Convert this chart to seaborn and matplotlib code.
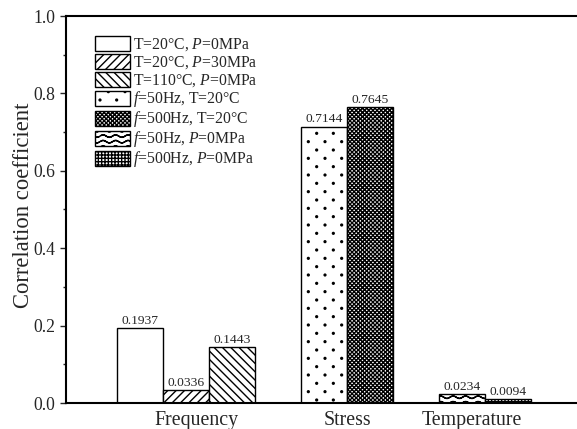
import warnings
warnings.filterwarnings('ignore')
import numpy as np
import pandas as pd
import matplotlib
matplotlib.use('Agg')
import matplotlib.pyplot as plt
import matplotlib.hatch as mhatch
from matplotlib.path import Path
from matplotlib.patches import Patch, Rectangle
from matplotlib.legend_handler import HandlerPatch
from matplotlib.ticker import MultipleLocator
import seaborn as sns

# ---------------- data ----------------
groups = ['Frequency', 'Stress', 'Temperature']
conditions = [
    'T=20°C, $\\mathit{P}$=0MPa',
    'T=20°C, $\\mathit{P}$=30MPa',
    'T=110°C, $\\mathit{P}$=0MPa',
    '$\\mathit{f}$=50Hz, T=20°C',
    '$\\mathit{f}$=500Hz, T=20°C',
    '$\\mathit{f}$=50Hz, $\\mathit{P}$=0MPa',
    '$\\mathit{f}$=500Hz, $\\mathit{P}$=0MPa',
]
condition_group = ['Frequency', 'Frequency', 'Frequency', 'Stress', 'Stress',
                   'Temperature', 'Temperature']
values = [0.1937, 0.0336, 0.1443, 0.7144, 0.7645, 0.0234, 0.0094]
y_ticks = [0.0, 0.2, 0.4, 0.6, 0.8, 1.0]

# ---------------- styles ----------------
hatches = ['', '////', '\\\\\\\\', ':', 'xxxxxxxx', '~~~', '+++++']
label_offsets = [0.22, 0.02, -0.28]   # x-label shift relative to group centre


class WaveHatch(mhatch.HatchPatternBase):
    """wavy lines, drawn as many short segments ('~')"""
    def __init__(self, hatch, density):
        self.num_lines = int(hatch.count('~') * density)
        self.npts = 81
        self.num_vertices = self.num_lines * (self.npts - 1) * 2

    def set_vertices_and_codes(self, vertices, codes):
        if self.num_lines == 0:
            return
        xs = np.linspace(0, 1, self.npts)
        ys = (np.arange(self.num_lines) + 0.5) / self.num_lines
        amp = 0.012
        k = 0
        for y in ys:
            yy = y + amp * np.sin(2 * np.pi * 8 * xs)
            n = self.npts - 1
            vertices[k:k + 2 * n:2, 0] = xs[:-1]
            vertices[k:k + 2 * n:2, 1] = yy[:-1]
            vertices[k + 1:k + 2 * n:2, 0] = xs[1:]
            vertices[k + 1:k + 2 * n:2, 1] = yy[1:]
            codes[k:k + 2 * n:2] = Path.MOVETO
            codes[k + 1:k + 2 * n:2] = Path.LINETO
            k += 2 * n


class DotHatch(mhatch.HatchPatternBase):
    """small filled dots on a staggered lattice (':')"""
    def __init__(self, hatch, density):
        n = hatch.count(':')
        self.cols = 6 * n
        self.rows = 12 * n
        circ = Path.unit_circle()
        self.cv = circ.vertices
        self.cc = circ.codes
        self.num_vertices = (self.cols + 1) * (self.rows + 1) * len(self.cv) if n else 0

    def set_vertices_and_codes(self, vertices, codes):
        if self.num_vertices == 0:
            return
        r = 0.009
        k = 0
        m = len(self.cv)
        for row in range(self.rows + 1):
            y = row / self.rows
            shift = 0.5 / self.cols if row % 2 else 0.0
            for c in range(self.cols + 1):
                x = c / self.cols + shift
                vertices[k:k + m] = self.cv * r + [x, y]
                codes[k:k + m] = self.cc
                k += m


mhatch._hatch_types.extend([WaveHatch, DotHatch])

sns.set_style('ticks')
plt.rcParams['font.family'] = ['Liberation Serif', 'DejaVu Serif']
plt.rcParams['mathtext.fontset'] = 'custom'
plt.rcParams['mathtext.rm'] = 'Liberation Serif'
plt.rcParams['mathtext.it'] = 'Liberation Serif:italic'
plt.rcParams['hatch.linewidth'] = 1.0
plt.rcParams['hatch.color'] = 'black'

df = pd.DataFrame({'condition': conditions, 'value': values, 'group': condition_group})

# slot order with empty spacer slots between groups
order = []
for gi, g in enumerate(groups):
    if gi > 0:
        order.append(' ' * gi)
    order += [c for c, cg in zip(conditions, condition_group) if cg == g]

fig = plt.figure(figsize=(5.77, 4.29), dpi=100)
ax = fig.add_axes([66 / 577, 1 - 403 / 429, 1 - 66 / 577, (403 - 16) / 429])

sns.barplot(data=df, x='condition', y='value', order=order, color='white',
            edgecolor='black', linewidth=1.0, width=1.0, errorbar=None,
            saturation=1, ax=ax)

for p in ax.patches:
    slot = int(round(p.get_x() + p.get_width() / 2))
    name = order[slot]
    if name in conditions:
        p.set_hatch(hatches[conditions.index(name)])
        p.set_facecolor('white')
        p.set_edgecolor('black')

for cont in ax.containers:
    ax.bar_label(cont, fmt='%.4f', padding=1, fontsize=9.7)

centers = []
for gi, g in enumerate(groups):
    idx = [order.index(c) for c, cg in zip(conditions, condition_group) if cg == g]
    centers.append(np.mean(idx) + label_offsets[gi])
ax.set_xticks(centers)
ax.set_xticklabels(groups, fontsize=14.3)
ax.set_xlim(-1.609, 9.5)
ax.set_xlabel('')

ax.set_ylim(0, 1.0)
ax.set_yticks(y_ticks)
ax.set_yticklabels([f'{v:.1f}' for v in y_ticks], fontsize=12.7)
ax.yaxis.set_minor_locator(MultipleLocator(0.1))
ax.set_ylabel('Correlation coefficient', fontsize=16.3)
ax.yaxis.set_label_coords(-0.062, 0.512)

ax.tick_params(axis='x', length=0, pad=6)
ax.tick_params(axis='y', which='major', direction='out', length=4, width=1, pad=3.5)
ax.tick_params(axis='y', which='minor', direction='out', length=2.5, width=1)
for s in ['left', 'bottom', 'top']:
    ax.spines[s].set_linewidth(1.5)
    ax.spines[s].set_color('black')
ax.spines['right'].set_visible(False)


def legend_box(legend, orig_handle, xdescent, ydescent, width, height, fontsize):
    h = 0.95 * fontsize
    return Rectangle((-xdescent, -ydescent + (height - h) / 2), width, h)


handles = [Patch(facecolor='white', edgecolor='black', hatch=h, label=c, linewidth=1.0)
           for h, c in zip(hatches, conditions)]
ax.legend(handles=handles, loc='upper left', bbox_to_anchor=(0.057, 0.951),
          frameon=False, fontsize=11.3, borderpad=0, borderaxespad=0,
          handlelength=2.2, handleheight=1.3, handletextpad=0.2,
          labelspacing=0.0,
          handler_map={Patch: HandlerPatch(patch_func=legend_box)})

fig.savefig('out.png', dpi=100)
